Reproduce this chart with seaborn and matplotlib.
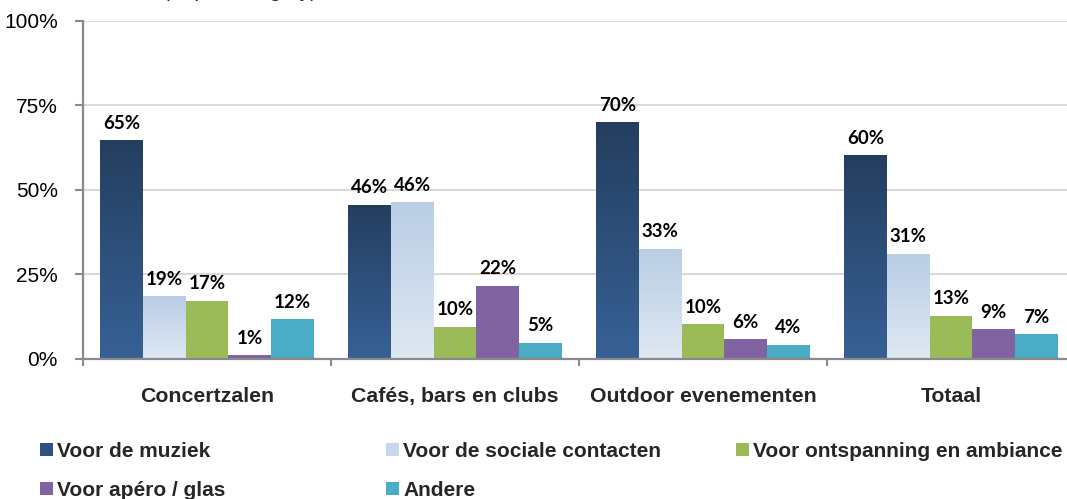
import numpy as np
import pandas as pd
import matplotlib
matplotlib.use("Agg")
import matplotlib.pyplot as plt
import seaborn as sns
from matplotlib.colors import LinearSegmentedColormap
from matplotlib.patches import Patch

# ---------------- data ----------------
categories = ["Concertzalen", "Cafés, bars en clubs", "Outdoor evenementen", "Totaal"]
series = ["Voor de muziek", "Voor de sociale contacten", "Voor ontspanning en ambiance",
          "Voor apéro / glas", "Andere"]
muziek = [64.6, 45.6, 70.0, 60.2]
sociaal = [18.6, 46.3, 32.6, 31.1]
ontspanning = [17.2, 9.6, 10.2, 12.8]
apero = [1.1, 21.7, 5.9, 8.8]
andere = [11.7, 4.8, 4.2, 7.3]
yticks = [0, 25, 50, 75, 100]
ytick_labels = ["0%", "25%", "50%", "75%", "100%"]

colors = ["#2f5283", "#c8d8ec", "#9bbb59", "#8064a2", "#4bacc6"]
grad_colors = {0: ("#376196", "#243e5f"), 1: ("#dfe8f3", "#b9cde5")}

values = [muziek, sociaal, ontspanning, apero, andere]
df = pd.DataFrame({
    "categorie": categories * len(series),
    "reeks": [s for s in series for _ in categories],
    "waarde": [v for vals in values for v in vals],
})

# ---------------- style ----------------
sns.set_style("white")
plt.rcParams["font.family"] = ["Liberation Sans", "DejaVu Sans"]

W, H = 1067, 499
fig = plt.figure(figsize=(W / 100, H / 100), dpi=100)
ax = fig.add_axes([83 / W, 1 - 359 / H, (1075 - 83) / W, (359 - 20.7) / H])

sns.barplot(data=df, x="categorie", y="waarde", hue="reeks", order=categories,
            hue_order=series, palette=colors, width=0.86, gap=0, linewidth=0,
            edgecolor="none", saturation=1, legend=False, ax=ax, zorder=3)

# gradient fills for the first two series
for idx, (c_bot, c_top) in grad_colors.items():
    cmap = LinearSegmentedColormap.from_list(f"g{idx}", [c_bot, c_top])
    grad = np.linspace(0, 1, 256).reshape(-1, 1)
    for bar in ax.containers[idx]:
        x0, y0 = bar.get_x(), bar.get_y()
        w, h = bar.get_width(), bar.get_height()
        im = ax.imshow(grad, extent=[x0, x0 + w, y0, y0 + h], origin="lower",
                       aspect="auto", cmap=cmap, zorder=3.5)
        im.set_clip_path(bar)

# value labels
for cont in ax.containers:
    ax.bar_label(cont, labels=[f"{round(b.get_height()):d}%" for b in cont],
                 padding=6, fontsize=13.5, fontweight="bold", family="Lato",
                 color="#000000", zorder=5)

ax.set_xlim(-0.5, 3.5)
ax.set_ylim(0, 100)
ax.set_yticks(yticks)
ax.set_yticklabels(ytick_labels)
ax.set_xlabel("")
ax.set_ylabel("")

ax.yaxis.grid(True, color="#d9d9d9", linewidth=1.5, zorder=0)
ax.xaxis.grid(False)
ax.set_axisbelow(True)

for s in ["top", "right"]:
    ax.spines[s].set_visible(False)
for s in ["left", "bottom"]:
    ax.spines[s].set_color("#8a8a8a")
    ax.spines[s].set_linewidth(1.6)
    ax.spines[s].set_zorder(6)

ax.tick_params(axis="y", length=6, width=1.5, color="#8a8a8a", labelsize=15,
               pad=12, left=True, labelcolor="#000000")
ax.set_xticks(range(len(categories)))
ax.set_xticklabels(categories, fontsize=15.3, fontweight="bold")
ax.set_xticks([-0.5, 0.5, 1.5, 2.5, 3.5], minor=True)
ax.tick_params(axis="x", which="major", length=0, pad=20)
ax.tick_params(axis="x", which="minor", length=5, width=1.5, color="#8a8a8a",
               direction="out", bottom=True)

# clipped title fragment at the very top (only descenders visible, as in the reference)
fig.text(317 / W, 1 + 3 / H, "(% per category)", ha="right", va="baseline",
         fontsize=15)

# legend in three columns
legend_cols = [([0, 3], 40), ([1, 4], 386), ([2], 736)]
for idxs, xpx in legend_cols:
    handles = [Patch(facecolor=colors[i], edgecolor="none") for i in idxs]
    labs = [series[i] for i in idxs]
    fig.legend(handles, labs, loc="upper left",
               bbox_to_anchor=(xpx / W, 1 - 442 / H), frameon=False,
               prop={"size": 15, "weight": "bold", "family": "Liberation Sans"},
               handlelength=0.6, handleheight=0.6, handletextpad=0.22,
               labelspacing=0.95, borderpad=0, borderaxespad=0)

fig.savefig("out.png", dpi=100)
